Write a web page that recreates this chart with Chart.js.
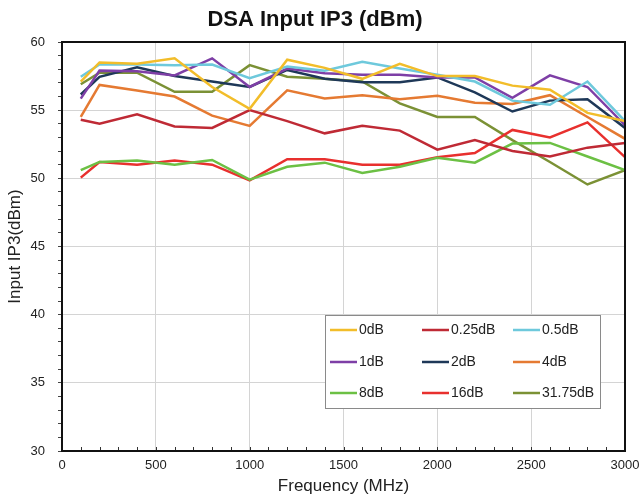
<!DOCTYPE html>
<html>
<head>
<meta charset="utf-8">
<script src="https://cdn.jsdelivr.net/npm/chart.js@4/dist/chart.umd.min.js"></script>
<style>
html,body{margin:0;padding:0;background:#fff;}
#wrap{width:643px;height:499px;position:relative;}
</style>
</head>
<body>
<div id="wrap"><canvas id="c" width="643" height="499"></canvas></div>
<script>
const freqMHz = [100,200,400,600,800,1000,1200,1400,1600,1800,2000,2200,2400,2600,2800,3000];
const seriesNames = ['0dB','0.25dB','0.5dB','1dB','2dB','4dB','8dB','16dB','31.75dB'];
const ip3_0dB    = [57.1,58.5,58.4,58.8,56.7,55.1,58.7,58.1,57.3,58.4,57.5,57.5,56.8,56.5,54.8,54.2];
const ip3_0p25dB = [54.3,54.0,54.7,53.8,53.7,55.0,54.2,53.3,53.85,53.5,52.1,52.8,52.0,51.6,52.25,52.6];
const ip3_0p5dB  = [57.45,58.35,58.35,58.3,58.35,57.35,58.2,57.9,58.55,58.05,57.6,57.1,55.7,55.4,57.1,54.2];
const ip3_1dB    = [55.85,57.9,57.85,57.55,58.8,56.7,58.05,57.7,57.6,57.6,57.4,57.4,55.9,57.55,56.7,53.9];
const ip3_2dB    = [56.15,57.45,58.15,57.5,57.1,56.7,57.95,57.3,57.05,57.05,57.4,56.3,54.9,55.7,55.8,53.7];
const ip3_4dB    = [54.5,56.85,56.45,56.0,54.6,53.85,56.45,55.85,56.1,55.8,56.05,55.55,55.45,56.1,54.5,52.9];
const ip3_8dB    = [50.6,51.2,51.3,51.0,51.35,49.9,50.85,51.15,50.4,50.85,51.5,51.15,52.55,52.6,51.6,50.6];
const ip3_16dB   = [50.05,51.2,51.0,51.3,51.0,49.85,51.4,51.4,51.0,51.0,51.55,51.85,53.55,53.0,54.1,51.55];
const ip3_31p75dB= [56.9,57.75,57.75,56.35,56.35,58.3,57.45,57.3,57.1,55.5,54.5,54.5,52.8,51.2,49.55,50.6];
const yTickLabels = [30,35,40,45,50,55,60];
const xTickLabels = [0,500,1000,1500,2000,2500,3000];

const allSeries = [ip3_0dB,ip3_0p25dB,ip3_0p5dB,ip3_1dB,ip3_2dB,ip3_4dB,ip3_8dB,ip3_16dB,ip3_31p75dB];
const colors = ['#f2bd2a','#bf2a35','#6ec9dc','#7e3fa6','#1e3858','#e57a32','#6cc044','#e8302e','#7b9135'];

const datasets = allSeries.map((vals,i)=>({
  label: seriesNames[i],
  data: vals.map((v,j)=>({x:freqMHz[j],y:v})),
  borderColor: colors[i],
  backgroundColor: colors[i],
  borderWidth: 2.5,
  pointRadius: 0,
  tension: 0,
  fill: false
}));

const FONT = '"Liberation Sans", Arial, sans-serif';

const framePlugin = {
  id:'frame',
  afterDatasetsDraw(chart){
    const {ctx, chartArea:a} = chart;
    const xs = chart.scales.x;
    ctx.save();
    ctx.strokeStyle = '#333';
    ctx.lineWidth = 1;
    for(let f=0; f<=3000; f+=100){
      const px = Math.round(xs.getPixelForValue(f))+0.5;
      ctx.beginPath(); ctx.moveTo(px,a.bottom); ctx.lineTo(px,a.bottom-4); ctx.stroke();
    }
    ctx.strokeStyle = '#111';
    ctx.lineWidth = 2;
    ctx.strokeRect(a.left, a.top, a.right-a.left, a.bottom-a.top);
    ctx.restore();
  },
  afterDraw(chart){
    const ctx = chart.ctx;
    ctx.save();
    const bx=325, by=315, bw=275, bh=93;
    ctx.fillStyle='#fff';
    ctx.fillRect(bx,by,bw,bh);
    ctx.strokeStyle='#8a8a8a';
    ctx.lineWidth=1;
    ctx.strokeRect(bx+0.5,by+0.5,bw,bh);
    const colX=[330,422,513], rowY=[330,362,393];
    ctx.font = '14px '+FONT;
    ctx.textBaseline='middle';
    ctx.textAlign='left';
    chart.data.datasets.forEach((ds,i)=>{
      const cx=colX[i%3], cy=rowY[Math.floor(i/3)];
      ctx.strokeStyle=ds.borderColor; ctx.lineWidth=2.5;
      ctx.beginPath(); ctx.moveTo(cx,cy); ctx.lineTo(cx+27,cy); ctx.stroke();
      ctx.fillStyle='#222';
      ctx.fillText(ds.label, cx+29, cy);
    });
    ctx.restore();
  }
};

new Chart(document.getElementById('c'), {
  type:'line',
  data:{datasets},
  plugins:[framePlugin],
  options:{
    responsive:false,
    animation:false,
    layout:{padding:{left:5,right:18,top:0,bottom:2}},
    plugins:{
      legend:{display:false},
      tooltip:{enabled:false},
      title:{display:true,text:'DSA Input IP3 (dBm)',color:'#111',
        font:{family:FONT,size:22,weight:'bold'},padding:{top:7,bottom:8.6}}
    },
    scales:{
      x:{
        type:'linear',min:0,max:3000,
        afterFit(s){ s.height = 46; s.paddingLeft = 0; s.paddingRight = 0; },
        ticks:{stepSize:100,autoSkip:false,maxRotation:0,color:'#222',
          font:{family:FONT,size:13},padding:7,
          callback:(v)=> xTickLabels.includes(v) ? String(v) : ''},
        grid:{drawTicks:false,lineWidth:1,
          color:(c)=> (c.tick && xTickLabels.includes(c.tick.value)) ? '#d4d4d4' : 'rgba(0,0,0,0)'},
        border:{display:false},
        title:{display:true,text:'Frequency (MHz)',color:'#222',
          font:{family:FONT,size:17},padding:{top:0,bottom:0}}
      },
      y:{
        min:30,max:60,
        afterFit(s){ s.width = 57; },
        ticks:{stepSize:1,autoSkip:false,color:'#222',font:{family:FONT,size:13},padding:13,
          callback:(v)=> yTickLabels.includes(v) ? String(v) : ''},
        grid:{drawTicks:true,tickLength:4,tickColor:'#444',lineWidth:1,
          color:(c)=> (c.tick && yTickLabels.includes(c.tick.value)) ? '#d4d4d4' : 'rgba(0,0,0,0)'},
        border:{display:false},
        title:{display:true,text:'Input IP3(dBm)',color:'#222',
          font:{family:FONT,size:17},padding:{top:0,bottom:0}}
      }
    }
  }
});
</script>
</body>
</html>
